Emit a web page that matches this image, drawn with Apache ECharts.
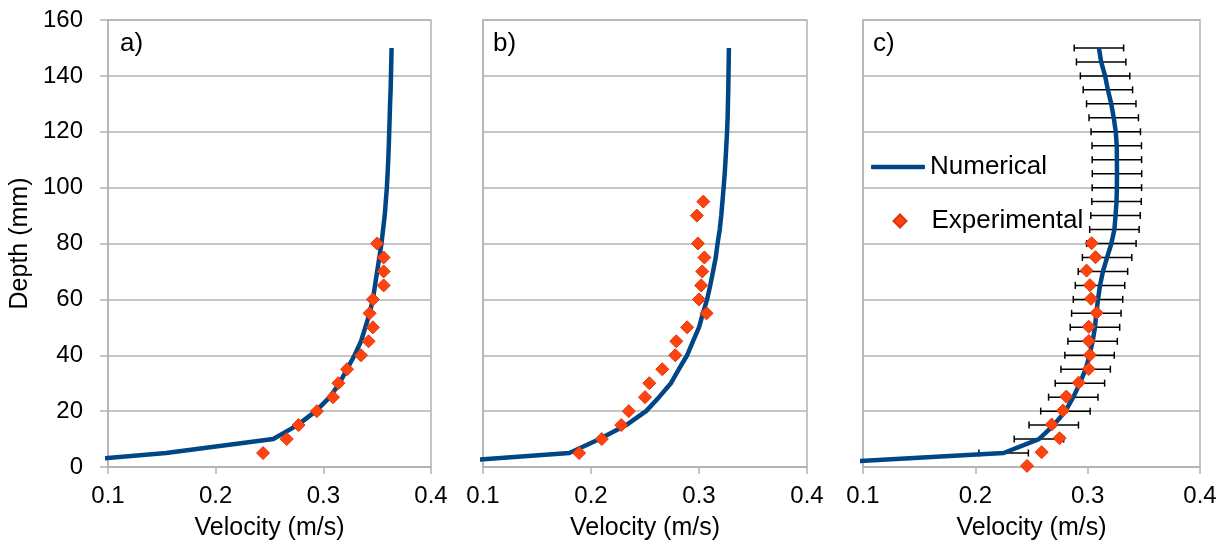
<!DOCTYPE html>
<html>
<head>
<meta charset="utf-8">
<script src="https://cdn.jsdelivr.net/npm/echarts@6/dist/echarts.min.js"></script>
<style>
html,body{margin:0;padding:0;background:#fff;}
#chart{width:1226px;height:548px;}
</style>
</head>
<body>
<div id="chart"></div>
<script>
// Depths (mm) of the numerical profiles
const numDepths = [0,5,10,15,20,25,30,35,40,45,50,55,60,65,70,75,80,85,90,95,100,105,110,115,120,125,130,135,140,145,150];
// Numerical velocity (m/s) per panel
const numA = [0,0.154,0.2535,0.276,0.293,0.306,0.315,0.322,0.329,0.335,0.339,0.343,0.346,0.348,0.350,0.352,0.354,0.3555,0.357,0.358,0.359,0.3597,0.3603,0.3608,0.3612,0.3616,0.362,0.3625,0.3628,0.3631,0.3634];
const numB = [0,0.180,0.208,0.2326,0.251,0.263,0.274,0.2814,0.289,0.2944,0.300,0.3036,0.3075,0.3104,0.313,0.3155,0.3172,0.3192,0.3206,0.3217,0.3228,0.3238,0.3246,0.3253,0.326,0.3265,0.3268,0.3271,0.3273,0.3275,0.3277];
const numC = [0,0.2252,0.2566,0.2698,0.2802,0.2872,0.2931,0.2982,0.3017,0.3044,0.3065,0.3077,0.3092,0.311,0.3136,0.3173,0.3211,0.3238,0.3248,0.3257,0.326,0.3261,0.326,0.3259,0.325,0.3232,0.321,0.318,0.3155,0.312,0.310];
// Error half-widths (m/s) of the numerical profile in panel c (depths 5..150)
const errC = [0.022,0.022,0.022,0.022,0.022,0.022,0.022,0.022,0.022,0.022,0.022,0.022,0.022,0.022,0.022,0.022,0.022,0.022,0.022,0.022,0.022,0.022,0.022,0.022,0.022,0.022,0.022,0.022,0.022,0.022];
// Experimental data
const expDepthA = [5,10,15,20,25,30,35,40,45,50,55,60,65,70,75,80];
const expA = [0.244,0.266,0.277,0.294,0.309,0.314,0.322,0.335,0.342,0.346,0.343,0.346,0.356,0.356,0.356,0.350];
const expDepthB = [5,10,15,20,25,30,35,40,45,50,55,60,65,70,75,80,90,95];
const expB = [0.189,0.210,0.228,0.235,0.250,0.254,0.266,0.278,0.279,0.289,0.307,0.300,0.302,0.303,0.305,0.299,0.298,0.304];
const expDepthC = [0.4,5.3,10.3,15.2,20.2,25.2,30.2,35.1,40.1,45.1,50.2,55.2,60.2,65.1,70.3,75.1,80.1];
const expC = [0.246,0.259,0.275,0.268,0.278,0.281,0.292,0.301,0.302,0.301,0.301,0.308,0.303,0.302,0.299,0.307,0.3035];
// Axis ticks / labels
const xTicks = {min:0.1, max:0.4, interval:0.1};
const yTicks = {min:0, max:160, interval:20};
const panelLabels = ['a)','b)','c)'];
const xTitle = 'Velocity (m/s)';
const yTitle = 'Depth (mm)';
const seriesNames = ['Numerical','Experimental'];

const FONT = '"Liberation Sans", Arial, sans-serif';
const LINE_COLOR = '#004586';
const PT_COLOR = '#ff420e';
const GRID_COLOR = '#b3b3b3';

const zip = (xs, ys) => xs.map((x, i) => [x, ys[i]]);

const grids = [
  {left:108, top:20, width:323, height:447},
  {left:483, top:20, width:324, height:447},
  {left:863, top:20, width:337, height:447}
].map(g => Object.assign(g, {show:true, borderColor:GRID_COLOR, borderWidth:1.5, backgroundColor:'transparent'}));

const xAxes = [0,1,2].map(i => ({
  type:'value', gridIndex:i, min:xTicks.min, max:xTicks.max, interval:xTicks.interval,
  name:xTitle, nameLocation:'middle', nameGap:49,
  nameTextStyle:{fontFamily:FONT, fontSize:25, color:'#000'},
  axisLine:{show:true, lineStyle:{color:GRID_COLOR, width:1.5}},
  axisTick:{show:true, length:7, lineStyle:{color:GRID_COLOR, width:1.5}},
  axisLabel:{fontFamily:FONT, fontSize:24, color:'#000', margin:17, formatter:v => v.toFixed(1)},
  splitLine:{show:false}
}));

const yAxes = [0,1,2].map(i => ({
  type:'value', gridIndex:i, min:yTicks.min, max:yTicks.max, interval:yTicks.interval,
  name: i === 0 ? yTitle : '', nameLocation:'middle', nameGap:75,
  nameTextStyle:{fontFamily:FONT, fontSize:25, color:'#000'},
  axisLine:{show:true, lineStyle:{color:GRID_COLOR, width:1.5}},
  axisTick:{show:i === 0, length:8, lineStyle:{color:GRID_COLOR, width:1.5}},
  axisLabel:{show:i === 0, fontFamily:FONT, fontSize:24, color:'#000', margin:25},
  splitLine:{show:true, lineStyle:{color:GRID_COLOR, width:1.5}}
}));

const nums = [numA, numB, numC];
const exps = [zip(expA, expDepthA), zip(expB, expDepthB), zip(expC, expDepthC)];

const series = [];
// error bars (panel c)
series.push({
  type:'custom', name:'errC', xAxisIndex:2, yAxisIndex:2, z:2,
  data: numDepths.slice(1).map((d, i) => [numC[i+1], d, errC[i]]),
  encode:{x:0, y:1},
  renderItem:(params, api) => {
    const v = api.value(0), d = api.value(1), e = api.value(2);
    const l = api.coord([v - e, d]), r = api.coord([v + e, d]);
    const h = 3.5;
    const st = {stroke:'#000', lineWidth:1.5};
    return {type:'group', children:[
      {type:'line', shape:{x1:l[0], y1:l[1], x2:r[0], y2:r[1]}, style:st},
      {type:'line', shape:{x1:l[0], y1:l[1]-h, x2:l[0], y2:l[1]+h}, style:st},
      {type:'line', shape:{x1:r[0], y1:r[1]-h, x2:r[0], y2:r[1]+h}, style:st}
    ]};
  }
});
for (let i = 0; i < 3; i++) {
  series.push({
    type:'line', name:seriesNames[0], xAxisIndex:i, yAxisIndex:i, z:3,
    data: zip(nums[i], numDepths), showSymbol:false, symbol:'none', clip:true,
    lineStyle:{color:LINE_COLOR, width:4.5, join:'round'}, itemStyle:{color:LINE_COLOR}
  });
  series.push({
    type:'scatter', name:seriesNames[1], xAxisIndex:i, yAxisIndex:i, z:4,
    data: exps[i], symbol:'diamond', symbolSize:13,
    itemStyle:{color:PT_COLOR, borderColor:'#d8380a', borderWidth:1, opacity:1}
  });
}

const option = {
  animation:false,
  backgroundColor:'#fff',
  grid:grids, xAxis:xAxes, yAxis:yAxes, series:series,
  legend:[
    {data:[{name:seriesNames[0], icon:'roundRect', itemStyle:{color:LINE_COLOR}}], left:871, top:154, orient:'vertical', padding:0,
     itemWidth:54, itemHeight:4.5, itemGap:0,
     textStyle:{fontFamily:FONT, fontSize:26, color:'#000'}},
    {data:[{name:seriesNames[1], icon:'diamond'}], left:892.5, top:208, orient:'vertical', padding:0,
     itemWidth:13, itemHeight:13, itemGap:0,
     textStyle:{fontFamily:FONT, fontSize:26, color:'#000', padding:[0,0,0,20]}}
  ],
  graphic:[
    {type:'text', left:120, top:31, style:{text:panelLabels[0], font:'26px ' + FONT, fill:'#000'}},
    {type:'text', left:493, top:31, style:{text:panelLabels[1], font:'26px ' + FONT, fill:'#000'}},
    {type:'text', left:873, top:31, style:{text:panelLabels[2], font:'26px ' + FONT, fill:'#000'}}
  ]
};

const chart = echarts.init(document.getElementById('chart'), null, {renderer:'canvas'});
chart.setOption(option);
</script>
</body>
</html>
